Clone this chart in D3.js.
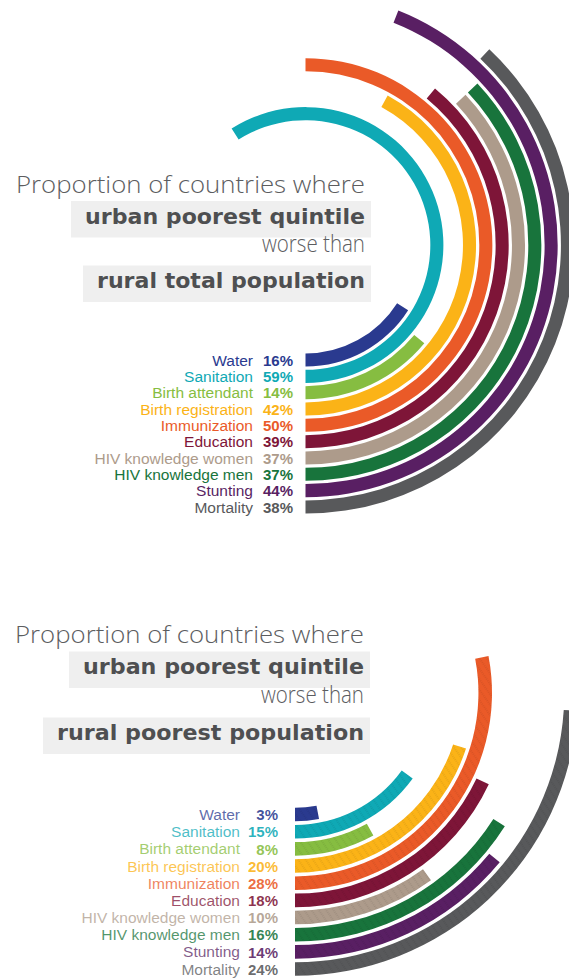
<!DOCTYPE html>
<html>
<head>
<meta charset="utf-8">
<script src="https://cdn.jsdelivr.net/npm/d3@7"></script>
<style>
  html, body { margin: 0; padding: 0; background: #ffffff; }
  svg { display: block; }
</style>
</head>
<body>
<svg id="chart" width="569" height="979"></svg>
<script>
// Indicators, from the innermost ring to the outermost
const categories = [
  "Water", "Sanitation", "Birth attendant", "Birth registration", "Immunization",
  "Education", "HIV knowledge women", "HIV knowledge men", "Stunting", "Mortality"
];
// % of countries where the urban poorest quintile does worse than the rural total population
const vsRuralTotal = [16, 59, 14, 42, 50, 39, 37, 37, 44, 38];
// % of countries where the urban poorest quintile does worse than the rural poorest
const vsRuralPoorest = [3, 15, 8, 20, 28, 18, 10, 16, 14, 24];
const ringColors = [
  "#2a3a8f", "#0fa9b5", "#86bd41", "#fbb317", "#ea5a28",
  "#7e1538", "#ad9b8b", "#18743c", "#591f63", "#58595b"
];
const titleTop = ["Proportion of countries where", "urban poorest quintile", "worse than", "rural total population"];
const titleBottom = ["Proportion of countries where", "urban poorest quintile", "worse than", "rural poorest population"];

const svg = d3.select("#chart");
const defs = svg.append("defs");

// Fine dotted diagonal texture used on the second chart
const pat = defs.append("pattern")
  .attr("id", "dotted")
  .attr("patternUnits", "userSpaceOnUse")
  .attr("width", 6).attr("height", 6)
  .attr("patternTransform", "rotate(-35)");
pat.append("line")
  .attr("x1", 3).attr("y1", 0).attr("x2", 3).attr("y2", 6)
  .attr("stroke", "#000").attr("stroke-opacity", 0.22)
  .attr("stroke-width", 0.7).attr("stroke-dasharray", "0.9 1.1");

const angle = d3.scaleLinear().domain([0, 100]).range([0, 2 * Math.PI]);

function drawPanel(cfg) {
  const g = svg.append("g");

  // Title block: plain lines alternate with bold lines on a grey band
  const boldLine = [false, true, false, true];
  cfg.title.forEach((t, i) => {
    const bold = boldLine[i];
    if (bold) {
      g.append("rect")
        .attr("x", cfg.titleRight - cfg.titleWidths[i] - 14)
        .attr("y", cfg.titleY[i] - 22.5)
        .attr("width", cfg.titleWidths[i] + 20)
        .attr("height", 36.5)
        .attr("fill", "#efefef");
    }
    g.append("text")
      .attr("x", cfg.titleRight)
      .attr("y", cfg.titleY[i])
      .attr("text-anchor", "end")
      .attr("font-family", bold ? "'DejaVu Sans', sans-serif" : "'Open Sans', sans-serif")
      .attr("font-weight", bold ? 700 : 300)
      .attr("font-size", bold ? 21.5 : 23.5)
      .attr("fill", bold ? "#4e4f51" : "#5c5d5f")
      .attr("textLength", cfg.titleWidths[i])
      .attr("lengthAdjust", "spacingAndGlyphs")
      .text(t);
  });

  const radius = d3.scaleBand()
    .domain(categories)
    .range([cfg.r0, cfg.r1])
    .paddingInner(cfg.pad)
    .paddingOuter(0);

  const arc = d3.arc()
    .innerRadius(d => radius(d.name))
    .outerRadius(d => radius(d.name) + radius.bandwidth())
    .startAngle(Math.PI)
    .endAngle(d => Math.PI - angle(d.value));

  const rows = categories.map((name, i) => ({ name, value: cfg.values[i], color: ringColors[i] }));

  const rings = g.append("g").attr("transform", `translate(${cfg.cx},${cfg.cy})`);
  rings.selectAll("path.bar")
    .data(rows)
    .join("path")
    .attr("class", "bar")
    .attr("d", arc)
    .attr("fill", d => d.color);

  if (cfg.textured) {
    rings.selectAll("path.tex")
      .data(rows)
      .join("path")
      .attr("class", "tex")
      .attr("d", arc)
      .attr("fill", "url(#dotted)");
  }

  // Labels sit level with the start of each ring
  const yOf = d => cfg.cy + radius(d.name) + radius.bandwidth() / 2;

  g.selectAll("text.name")
    .data(rows)
    .join("text")
    .attr("class", "name")
    .attr("x", cfg.nameRight)
    .attr("y", yOf)
    .attr("dy", "0.36em")
    .attr("text-anchor", "end")
    .attr("font-family", "'Liberation Sans', Arial, sans-serif")
    .attr("font-size", 15.5)
    .attr("fill", d => d.color)
    .attr("fill-opacity", cfg.nameOpacity)
    .text(d => d.name);

  g.selectAll("text.val")
    .data(rows)
    .join("text")
    .attr("class", "val")
    .attr("x", cfg.valueRight)
    .attr("y", yOf)
    .attr("dy", "0.38em")
    .attr("text-anchor", "end")
    .attr("font-family", "'Liberation Sans', Arial, sans-serif")
    .attr("font-weight", 700)
    .attr("font-size", 15)
    .attr("fill", d => d.color)
    .attr("fill-opacity", cfg.valueOpacity)
    .text(d => d.value + "%");
}

drawPanel({
  values: vsRuralTotal,
  title: titleTop,
  titleRight: 365,
  titleY: [193, 223.5, 252, 288],
  titleWidths: [349, 280, 103, 268],
  cx: 305.5, cy: 245,
  r0: 108.5, r1: 268.5, pad: 0.2,
  nameRight: 253, valueRight: 293,
  nameOpacity: 1, valueOpacity: 1,
  textured: false
});

drawPanel({
  values: vsRuralPoorest,
  title: titleBottom,
  titleRight: 364,
  titleY: [643.3, 674, 703.3, 740],
  titleWidths: [349, 281, 103, 307],
  cx: 295, cy: 693,
  r0: 114.75, r1: 282.85, pad: 0.21,
  nameRight: 240, valueRight: 278,
  nameOpacity: 0.75, valueOpacity: 0.88,
  textured: true
});
</script>
</body>
</html>
